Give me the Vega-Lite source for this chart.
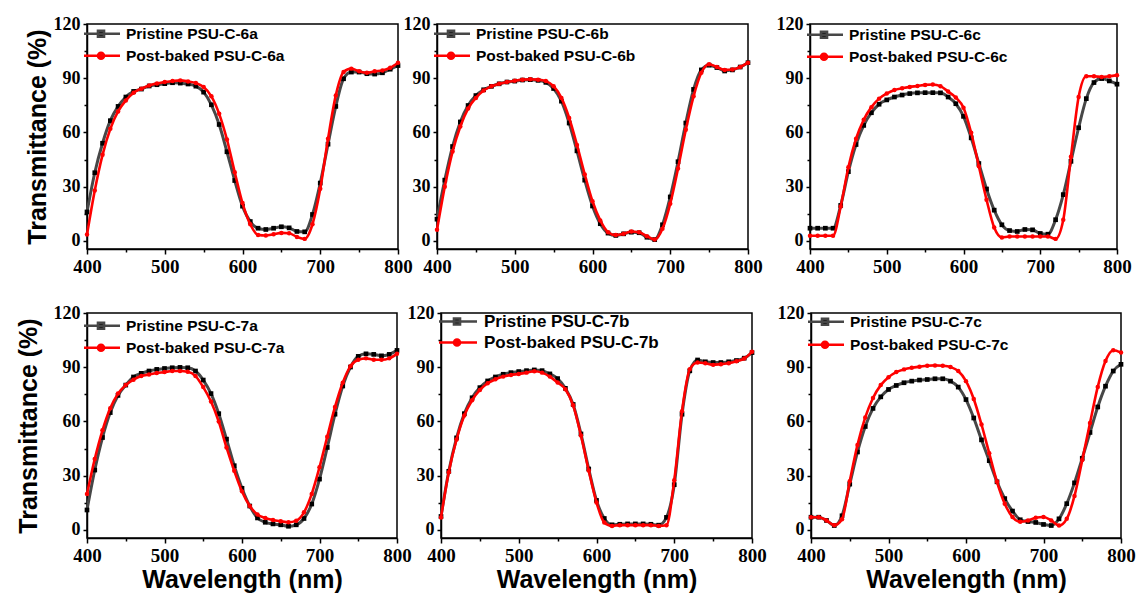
{
"$schema": "https://vega.github.io/schema/vega-lite/v6.json",
"background": "white",
"padding": {"left": 15, "top": 14, "right": 0, "bottom": 0},
"datasets": {"d": [
{"p":"6a","s":"Pristine","x":400,"y":16},{"p":"6a","s":"Pristine","x":410,"y":37.7},{"p":"6a","s":"Pristine","x":420,"y":54},{"p":"6a","s":"Pristine","x":430,"y":66.5},{"p":"6a","s":"Pristine","x":440,"y":74.4},{"p":"6a","s":"Pristine","x":450,"y":79.6},{"p":"6a","s":"Pristine","x":460,"y":82.7},{"p":"6a","s":"Pristine","x":470,"y":84},{"p":"6a","s":"Pristine","x":480,"y":85.7},{"p":"6a","s":"Pristine","x":490,"y":86.4},{"p":"6a","s":"Pristine","x":500,"y":87},{"p":"6a","s":"Pristine","x":510,"y":87.5},{"p":"6a","s":"Pristine","x":520,"y":87.3},{"p":"6a","s":"Pristine","x":530,"y":86.8},{"p":"6a","s":"Pristine","x":540,"y":85.6},{"p":"6a","s":"Pristine","x":550,"y":82.3},{"p":"6a","s":"Pristine","x":560,"y":75.3},{"p":"6a","s":"Pristine","x":570,"y":64.4},{"p":"6a","s":"Pristine","x":580,"y":49.3},{"p":"6a","s":"Pristine","x":590,"y":33.4},{"p":"6a","s":"Pristine","x":600,"y":19.2},{"p":"6a","s":"Pristine","x":610,"y":10.7},{"p":"6a","s":"Pristine","x":620,"y":7},{"p":"6a","s":"Pristine","x":630,"y":6.3},{"p":"6a","s":"Pristine","x":640,"y":7},{"p":"6a","s":"Pristine","x":650,"y":7.8},{"p":"6a","s":"Pristine","x":660,"y":7.2},{"p":"6a","s":"Pristine","x":670,"y":5.2},{"p":"6a","s":"Pristine","x":680,"y":5},{"p":"6a","s":"Pristine","x":690,"y":14.6},{"p":"6a","s":"Pristine","x":700,"y":32},{"p":"6a","s":"Pristine","x":710,"y":53.5},{"p":"6a","s":"Pristine","x":720,"y":74.4},{"p":"6a","s":"Pristine","x":730,"y":89.7},{"p":"6a","s":"Pristine","x":740,"y":93.4},{"p":"6a","s":"Pristine","x":750,"y":93.4},{"p":"6a","s":"Pristine","x":760,"y":92.5},{"p":"6a","s":"Pristine","x":770,"y":92.3},{"p":"6a","s":"Pristine","x":780,"y":93},{"p":"6a","s":"Pristine","x":790,"y":95},{"p":"6a","s":"Pristine","x":800,"y":97},
{"p":"6a","s":"Post-baked","x":400,"y":3.5},{"p":"6a","s":"Post-baked","x":410,"y":27.9},{"p":"6a","s":"Post-baked","x":420,"y":47.6},{"p":"6a","s":"Post-baked","x":430,"y":62},{"p":"6a","s":"Post-baked","x":440,"y":71.6},{"p":"6a","s":"Post-baked","x":450,"y":77.7},{"p":"6a","s":"Post-baked","x":460,"y":82},{"p":"6a","s":"Post-baked","x":470,"y":84.2},{"p":"6a","s":"Post-baked","x":480,"y":86},{"p":"6a","s":"Post-baked","x":490,"y":87.1},{"p":"6a","s":"Post-baked","x":500,"y":87.9},{"p":"6a","s":"Post-baked","x":510,"y":88.4},{"p":"6a","s":"Post-baked","x":520,"y":88.8},{"p":"6a","s":"Post-baked","x":530,"y":88.2},{"p":"6a","s":"Post-baked","x":540,"y":87.3},{"p":"6a","s":"Post-baked","x":550,"y":85.1},{"p":"6a","s":"Post-baked","x":560,"y":80},{"p":"6a","s":"Post-baked","x":570,"y":70.3},{"p":"6a","s":"Post-baked","x":580,"y":56.1},{"p":"6a","s":"Post-baked","x":590,"y":38},{"p":"6a","s":"Post-baked","x":600,"y":20.9},{"p":"6a","s":"Post-baked","x":610,"y":9.2},{"p":"6a","s":"Post-baked","x":620,"y":3.3},{"p":"6a","s":"Post-baked","x":630,"y":3},{"p":"6a","s":"Post-baked","x":640,"y":3.7},{"p":"6a","s":"Post-baked","x":650,"y":4.4},{"p":"6a","s":"Post-baked","x":660,"y":4.2},{"p":"6a","s":"Post-baked","x":670,"y":2.2},{"p":"6a","s":"Post-baked","x":680,"y":1.1},{"p":"6a","s":"Post-baked","x":690,"y":9.2},{"p":"6a","s":"Post-baked","x":700,"y":28.8},{"p":"6a","s":"Post-baked","x":710,"y":56.5},{"p":"6a","s":"Post-baked","x":720,"y":80.5},{"p":"6a","s":"Post-baked","x":730,"y":93.4},{"p":"6a","s":"Post-baked","x":740,"y":95.3},{"p":"6a","s":"Post-baked","x":750,"y":93.8},{"p":"6a","s":"Post-baked","x":760,"y":93},{"p":"6a","s":"Post-baked","x":770,"y":93.8},{"p":"6a","s":"Post-baked","x":780,"y":94.3},{"p":"6a","s":"Post-baked","x":790,"y":95.8},{"p":"6a","s":"Post-baked","x":800,"y":98.6},
{"p":"6b","s":"Pristine","x":400,"y":12},{"p":"6b","s":"Pristine","x":410,"y":33.6},{"p":"6b","s":"Pristine","x":420,"y":52.2},{"p":"6b","s":"Pristine","x":430,"y":65.8},{"p":"6b","s":"Pristine","x":440,"y":74.9},{"p":"6b","s":"Pristine","x":450,"y":80.4},{"p":"6b","s":"Pristine","x":460,"y":83.6},{"p":"6b","s":"Pristine","x":470,"y":85.5},{"p":"6b","s":"Pristine","x":480,"y":86.9},{"p":"6b","s":"Pristine","x":490,"y":87.9},{"p":"6b","s":"Pristine","x":500,"y":88.4},{"p":"6b","s":"Pristine","x":510,"y":89},{"p":"6b","s":"Pristine","x":520,"y":89.2},{"p":"6b","s":"Pristine","x":530,"y":88.8},{"p":"6b","s":"Pristine","x":540,"y":87.7},{"p":"6b","s":"Pristine","x":550,"y":84.3},{"p":"6b","s":"Pristine","x":560,"y":77.3},{"p":"6b","s":"Pristine","x":570,"y":65.2},{"p":"6b","s":"Pristine","x":580,"y":49.8},{"p":"6b","s":"Pristine","x":590,"y":33.6},{"p":"6b","s":"Pristine","x":600,"y":19.3},{"p":"6b","s":"Pristine","x":610,"y":9.5},{"p":"6b","s":"Pristine","x":620,"y":4.3},{"p":"6b","s":"Pristine","x":630,"y":3},{"p":"6b","s":"Pristine","x":640,"y":3.9},{"p":"6b","s":"Pristine","x":650,"y":4.8},{"p":"6b","s":"Pristine","x":660,"y":4.5},{"p":"6b","s":"Pristine","x":670,"y":2},{"p":"6b","s":"Pristine","x":680,"y":0.7},{"p":"6b","s":"Pristine","x":690,"y":8.9},{"p":"6b","s":"Pristine","x":700,"y":24.3},{"p":"6b","s":"Pristine","x":710,"y":43.8},{"p":"6b","s":"Pristine","x":720,"y":65.2},{"p":"6b","s":"Pristine","x":730,"y":83.8},{"p":"6b","s":"Pristine","x":740,"y":94.6},{"p":"6b","s":"Pristine","x":750,"y":97.2},{"p":"6b","s":"Pristine","x":760,"y":95.9},{"p":"6b","s":"Pristine","x":770,"y":94},{"p":"6b","s":"Pristine","x":780,"y":94.6},{"p":"6b","s":"Pristine","x":790,"y":96.2},{"p":"6b","s":"Pristine","x":800,"y":98.6},
{"p":"6b","s":"Post-baked","x":400,"y":6.1},{"p":"6b","s":"Post-baked","x":410,"y":29.9},{"p":"6b","s":"Post-baked","x":420,"y":49.4},{"p":"6b","s":"Post-baked","x":430,"y":63.3},{"p":"6b","s":"Post-baked","x":440,"y":73.2},{"p":"6b","s":"Post-baked","x":450,"y":79.1},{"p":"6b","s":"Post-baked","x":460,"y":83.2},{"p":"6b","s":"Post-baked","x":470,"y":85.5},{"p":"6b","s":"Post-baked","x":480,"y":86.9},{"p":"6b","s":"Post-baked","x":490,"y":87.9},{"p":"6b","s":"Post-baked","x":500,"y":88.6},{"p":"6b","s":"Post-baked","x":510,"y":89.2},{"p":"6b","s":"Post-baked","x":520,"y":89.4},{"p":"6b","s":"Post-baked","x":530,"y":89.2},{"p":"6b","s":"Post-baked","x":540,"y":88.4},{"p":"6b","s":"Post-baked","x":550,"y":85.6},{"p":"6b","s":"Post-baked","x":560,"y":79.1},{"p":"6b","s":"Post-baked","x":570,"y":68},{"p":"6b","s":"Post-baked","x":580,"y":53.1},{"p":"6b","s":"Post-baked","x":590,"y":36.8},{"p":"6b","s":"Post-baked","x":600,"y":21.9},{"p":"6b","s":"Post-baked","x":610,"y":11.3},{"p":"6b","s":"Post-baked","x":620,"y":4.8},{"p":"6b","s":"Post-baked","x":630,"y":3.2},{"p":"6b","s":"Post-baked","x":640,"y":3.9},{"p":"6b","s":"Post-baked","x":650,"y":5.2},{"p":"6b","s":"Post-baked","x":660,"y":4.8},{"p":"6b","s":"Post-baked","x":670,"y":2.6},{"p":"6b","s":"Post-baked","x":680,"y":0.7},{"p":"6b","s":"Post-baked","x":690,"y":6.7},{"p":"6b","s":"Post-baked","x":700,"y":20.6},{"p":"6b","s":"Post-baked","x":710,"y":40.1},{"p":"6b","s":"Post-baked","x":720,"y":61.5},{"p":"6b","s":"Post-baked","x":730,"y":80},{"p":"6b","s":"Post-baked","x":740,"y":93},{"p":"6b","s":"Post-baked","x":750,"y":97.7},{"p":"6b","s":"Post-baked","x":760,"y":96.2},{"p":"6b","s":"Post-baked","x":770,"y":94.6},{"p":"6b","s":"Post-baked","x":780,"y":94.8},{"p":"6b","s":"Post-baked","x":790,"y":96.2},{"p":"6b","s":"Post-baked","x":800,"y":98.6},
{"p":"6c","s":"Pristine","x":400,"y":7},{"p":"6c","s":"Pristine","x":410,"y":7},{"p":"6c","s":"Pristine","x":420,"y":7},{"p":"6c","s":"Pristine","x":430,"y":7},{"p":"6c","s":"Pristine","x":440,"y":19.6},{"p":"6c","s":"Pristine","x":450,"y":38.3},{"p":"6c","s":"Pristine","x":460,"y":53.3},{"p":"6c","s":"Pristine","x":470,"y":63.9},{"p":"6c","s":"Pristine","x":480,"y":70.9},{"p":"6c","s":"Pristine","x":490,"y":75.6},{"p":"6c","s":"Pristine","x":500,"y":78},{"p":"6c","s":"Pristine","x":510,"y":79.6},{"p":"6c","s":"Pristine","x":520,"y":80.7},{"p":"6c","s":"Pristine","x":530,"y":81.5},{"p":"6c","s":"Pristine","x":540,"y":81.9},{"p":"6c","s":"Pristine","x":550,"y":82},{"p":"6c","s":"Pristine","x":560,"y":82},{"p":"6c","s":"Pristine","x":570,"y":81.9},{"p":"6c","s":"Pristine","x":580,"y":79.6},{"p":"6c","s":"Pristine","x":590,"y":75.9},{"p":"6c","s":"Pristine","x":600,"y":68.9},{"p":"6c","s":"Pristine","x":610,"y":57},{"p":"6c","s":"Pristine","x":620,"y":42.8},{"p":"6c","s":"Pristine","x":630,"y":28.7},{"p":"6c","s":"Pristine","x":640,"y":17},{"p":"6c","s":"Pristine","x":650,"y":8.9},{"p":"6c","s":"Pristine","x":660,"y":5.7},{"p":"6c","s":"Pristine","x":670,"y":5.2},{"p":"6c","s":"Pristine","x":680,"y":6.3},{"p":"6c","s":"Pristine","x":690,"y":6.1},{"p":"6c","s":"Pristine","x":700,"y":4.1},{"p":"6c","s":"Pristine","x":710,"y":3.7},{"p":"6c","s":"Pristine","x":720,"y":11.7},{"p":"6c","s":"Pristine","x":730,"y":25.6},{"p":"6c","s":"Pristine","x":740,"y":44},{"p":"6c","s":"Pristine","x":750,"y":62.6},{"p":"6c","s":"Pristine","x":760,"y":78.7},{"p":"6c","s":"Pristine","x":770,"y":87.6},{"p":"6c","s":"Pristine","x":780,"y":89.8},{"p":"6c","s":"Pristine","x":790,"y":88.5},{"p":"6c","s":"Pristine","x":800,"y":86.7},
{"p":"6c","s":"Post-baked","x":400,"y":2.8},{"p":"6c","s":"Post-baked","x":410,"y":2.8},{"p":"6c","s":"Post-baked","x":420,"y":2.8},{"p":"6c","s":"Post-baked","x":430,"y":2.8},{"p":"6c","s":"Post-baked","x":440,"y":19},{"p":"6c","s":"Post-baked","x":450,"y":40.7},{"p":"6c","s":"Post-baked","x":460,"y":56.5},{"p":"6c","s":"Post-baked","x":470,"y":67},{"p":"6c","s":"Post-baked","x":480,"y":74},{"p":"6c","s":"Post-baked","x":490,"y":78.7},{"p":"6c","s":"Post-baked","x":500,"y":81.5},{"p":"6c","s":"Post-baked","x":510,"y":83.5},{"p":"6c","s":"Post-baked","x":520,"y":84.4},{"p":"6c","s":"Post-baked","x":530,"y":85.2},{"p":"6c","s":"Post-baked","x":540,"y":85.7},{"p":"6c","s":"Post-baked","x":550,"y":86.3},{"p":"6c","s":"Post-baked","x":560,"y":86.5},{"p":"6c","s":"Post-baked","x":570,"y":85.6},{"p":"6c","s":"Post-baked","x":580,"y":82.6},{"p":"6c","s":"Post-baked","x":590,"y":79.3},{"p":"6c","s":"Post-baked","x":600,"y":73.7},{"p":"6c","s":"Post-baked","x":610,"y":59.8},{"p":"6c","s":"Post-baked","x":620,"y":41.3},{"p":"6c","s":"Post-baked","x":630,"y":22.8},{"p":"6c","s":"Post-baked","x":640,"y":7.4},{"p":"6c","s":"Post-baked","x":650,"y":1.9},{"p":"6c","s":"Post-baked","x":660,"y":2.4},{"p":"6c","s":"Post-baked","x":670,"y":2.4},{"p":"6c","s":"Post-baked","x":680,"y":2.4},{"p":"6c","s":"Post-baked","x":690,"y":2.4},{"p":"6c","s":"Post-baked","x":700,"y":2.4},{"p":"6c","s":"Post-baked","x":710,"y":2.4},{"p":"6c","s":"Post-baked","x":720,"y":1.1},{"p":"6c","s":"Post-baked","x":730,"y":11.7},{"p":"6c","s":"Post-baked","x":740,"y":46.5},{"p":"6c","s":"Post-baked","x":750,"y":79.6},{"p":"6c","s":"Post-baked","x":760,"y":91.1},{"p":"6c","s":"Post-baked","x":770,"y":91.1},{"p":"6c","s":"Post-baked","x":780,"y":90.7},{"p":"6c","s":"Post-baked","x":790,"y":91.1},{"p":"6c","s":"Post-baked","x":800,"y":91.7},
{"p":"7a","s":"Pristine","x":400,"y":11},{"p":"7a","s":"Pristine","x":410,"y":33.1},{"p":"7a","s":"Pristine","x":420,"y":51.1},{"p":"7a","s":"Pristine","x":430,"y":64.9},{"p":"7a","s":"Pristine","x":440,"y":74.4},{"p":"7a","s":"Pristine","x":450,"y":80.1},{"p":"7a","s":"Pristine","x":460,"y":84.6},{"p":"7a","s":"Pristine","x":470,"y":86.6},{"p":"7a","s":"Pristine","x":480,"y":87.9},{"p":"7a","s":"Pristine","x":490,"y":88.8},{"p":"7a","s":"Pristine","x":500,"y":89.3},{"p":"7a","s":"Pristine","x":510,"y":89.7},{"p":"7a","s":"Pristine","x":520,"y":89.9},{"p":"7a","s":"Pristine","x":530,"y":89.7},{"p":"7a","s":"Pristine","x":540,"y":87.9},{"p":"7a","s":"Pristine","x":550,"y":82.9},{"p":"7a","s":"Pristine","x":560,"y":75.4},{"p":"7a","s":"Pristine","x":570,"y":64.3},{"p":"7a","s":"Pristine","x":580,"y":50.2},{"p":"7a","s":"Pristine","x":590,"y":35.5},{"p":"7a","s":"Pristine","x":600,"y":23},{"p":"7a","s":"Pristine","x":610,"y":13.2},{"p":"7a","s":"Pristine","x":620,"y":6.6},{"p":"7a","s":"Pristine","x":630,"y":4.2},{"p":"7a","s":"Pristine","x":640,"y":3.3},{"p":"7a","s":"Pristine","x":650,"y":2.8},{"p":"7a","s":"Pristine","x":660,"y":2},{"p":"7a","s":"Pristine","x":670,"y":2.8},{"p":"7a","s":"Pristine","x":680,"y":6.3},{"p":"7a","s":"Pristine","x":690,"y":14.3},{"p":"7a","s":"Pristine","x":700,"y":28.1},{"p":"7a","s":"Pristine","x":710,"y":45.6},{"p":"7a","s":"Pristine","x":720,"y":64},{"p":"7a","s":"Pristine","x":730,"y":79.6},{"p":"7a","s":"Pristine","x":740,"y":90.1},{"p":"7a","s":"Pristine","x":750,"y":96},{"p":"7a","s":"Pristine","x":760,"y":97.4},{"p":"7a","s":"Pristine","x":770,"y":97.1},{"p":"7a","s":"Pristine","x":780,"y":96.3},{"p":"7a","s":"Pristine","x":790,"y":97.1},{"p":"7a","s":"Pristine","x":800,"y":99.3},
{"p":"7a","s":"Post-baked","x":400,"y":19.9},{"p":"7a","s":"Post-baked","x":410,"y":39.2},{"p":"7a","s":"Post-baked","x":420,"y":55.1},{"p":"7a","s":"Post-baked","x":430,"y":67.3},{"p":"7a","s":"Post-baked","x":440,"y":75.4},{"p":"7a","s":"Post-baked","x":450,"y":80.1},{"p":"7a","s":"Post-baked","x":460,"y":83.1},{"p":"7a","s":"Post-baked","x":470,"y":85.1},{"p":"7a","s":"Post-baked","x":480,"y":86},{"p":"7a","s":"Post-baked","x":490,"y":86.8},{"p":"7a","s":"Post-baked","x":500,"y":87.3},{"p":"7a","s":"Post-baked","x":510,"y":87.9},{"p":"7a","s":"Post-baked","x":520,"y":87.9},{"p":"7a","s":"Post-baked","x":530,"y":87.5},{"p":"7a","s":"Post-baked","x":540,"y":85.1},{"p":"7a","s":"Post-baked","x":550,"y":79},{"p":"7a","s":"Post-baked","x":560,"y":71},{"p":"7a","s":"Post-baked","x":570,"y":59.9},{"p":"7a","s":"Post-baked","x":580,"y":45.6},{"p":"7a","s":"Post-baked","x":590,"y":32.7},{"p":"7a","s":"Post-baked","x":600,"y":21.3},{"p":"7a","s":"Post-baked","x":610,"y":13.2},{"p":"7a","s":"Post-baked","x":620,"y":8.5},{"p":"7a","s":"Post-baked","x":630,"y":6.6},{"p":"7a","s":"Post-baked","x":640,"y":5.5},{"p":"7a","s":"Post-baked","x":650,"y":4.8},{"p":"7a","s":"Post-baked","x":660,"y":4.2},{"p":"7a","s":"Post-baked","x":670,"y":5.1},{"p":"7a","s":"Post-baked","x":680,"y":9.7},{"p":"7a","s":"Post-baked","x":690,"y":19.9},{"p":"7a","s":"Post-baked","x":700,"y":34.6},{"p":"7a","s":"Post-baked","x":710,"y":51.5},{"p":"7a","s":"Post-baked","x":720,"y":68},{"p":"7a","s":"Post-baked","x":730,"y":81.4},{"p":"7a","s":"Post-baked","x":740,"y":90.6},{"p":"7a","s":"Post-baked","x":750,"y":94.1},{"p":"7a","s":"Post-baked","x":760,"y":94.9},{"p":"7a","s":"Post-baked","x":770,"y":94.1},{"p":"7a","s":"Post-baked","x":780,"y":94.1},{"p":"7a","s":"Post-baked","x":790,"y":94.9},{"p":"7a","s":"Post-baked","x":800,"y":97.4},
{"p":"7b","s":"Pristine","x":400,"y":7.4},{"p":"7b","s":"Pristine","x":410,"y":32.4},{"p":"7b","s":"Pristine","x":420,"y":50.9},{"p":"7b","s":"Pristine","x":430,"y":64.3},{"p":"7b","s":"Pristine","x":440,"y":73.1},{"p":"7b","s":"Pristine","x":450,"y":78.7},{"p":"7b","s":"Pristine","x":460,"y":82.4},{"p":"7b","s":"Pristine","x":470,"y":84.6},{"p":"7b","s":"Pristine","x":480,"y":86.1},{"p":"7b","s":"Pristine","x":490,"y":87},{"p":"7b","s":"Pristine","x":500,"y":87.6},{"p":"7b","s":"Pristine","x":510,"y":88.1},{"p":"7b","s":"Pristine","x":520,"y":88.5},{"p":"7b","s":"Pristine","x":530,"y":88.1},{"p":"7b","s":"Pristine","x":540,"y":86.3},{"p":"7b","s":"Pristine","x":550,"y":83.7},{"p":"7b","s":"Pristine","x":560,"y":78.3},{"p":"7b","s":"Pristine","x":570,"y":69.4},{"p":"7b","s":"Pristine","x":580,"y":53.1},{"p":"7b","s":"Pristine","x":590,"y":33.7},{"p":"7b","s":"Pristine","x":600,"y":16.3},{"p":"7b","s":"Pristine","x":610,"y":6.3},{"p":"7b","s":"Pristine","x":620,"y":2.8},{"p":"7b","s":"Pristine","x":630,"y":3.1},{"p":"7b","s":"Pristine","x":640,"y":3.3},{"p":"7b","s":"Pristine","x":650,"y":3.3},{"p":"7b","s":"Pristine","x":660,"y":3.3},{"p":"7b","s":"Pristine","x":670,"y":3.1},{"p":"7b","s":"Pristine","x":680,"y":2.6},{"p":"7b","s":"Pristine","x":690,"y":6.9},{"p":"7b","s":"Pristine","x":700,"y":25},{"p":"7b","s":"Pristine","x":710,"y":64},{"p":"7b","s":"Pristine","x":720,"y":88},{"p":"7b","s":"Pristine","x":730,"y":94},{"p":"7b","s":"Pristine","x":740,"y":93},{"p":"7b","s":"Pristine","x":750,"y":92.6},{"p":"7b","s":"Pristine","x":760,"y":92.6},{"p":"7b","s":"Pristine","x":770,"y":93},{"p":"7b","s":"Pristine","x":780,"y":93.7},{"p":"7b","s":"Pristine","x":790,"y":95},{"p":"7b","s":"Pristine","x":800,"y":98.1},
{"p":"7b","s":"Post-baked","x":400,"y":6.9},{"p":"7b","s":"Post-baked","x":410,"y":31.9},{"p":"7b","s":"Post-baked","x":420,"y":50},{"p":"7b","s":"Post-baked","x":430,"y":63.3},{"p":"7b","s":"Post-baked","x":440,"y":71.7},{"p":"7b","s":"Post-baked","x":450,"y":77.4},{"p":"7b","s":"Post-baked","x":460,"y":81.1},{"p":"7b","s":"Post-baked","x":470,"y":83.3},{"p":"7b","s":"Post-baked","x":480,"y":84.8},{"p":"7b","s":"Post-baked","x":490,"y":85.7},{"p":"7b","s":"Post-baked","x":500,"y":86.3},{"p":"7b","s":"Post-baked","x":510,"y":87},{"p":"7b","s":"Post-baked","x":520,"y":87.8},{"p":"7b","s":"Post-baked","x":530,"y":87},{"p":"7b","s":"Post-baked","x":540,"y":84.8},{"p":"7b","s":"Post-baked","x":550,"y":81.5},{"p":"7b","s":"Post-baked","x":560,"y":77.8},{"p":"7b","s":"Post-baked","x":570,"y":68.9},{"p":"7b","s":"Post-baked","x":580,"y":52.2},{"p":"7b","s":"Post-baked","x":590,"y":32.8},{"p":"7b","s":"Post-baked","x":600,"y":15.2},{"p":"7b","s":"Post-baked","x":610,"y":4.1},{"p":"7b","s":"Post-baked","x":620,"y":2.2},{"p":"7b","s":"Post-baked","x":630,"y":2.6},{"p":"7b","s":"Post-baked","x":640,"y":2.6},{"p":"7b","s":"Post-baked","x":650,"y":2.6},{"p":"7b","s":"Post-baked","x":660,"y":2.6},{"p":"7b","s":"Post-baked","x":670,"y":2.6},{"p":"7b","s":"Post-baked","x":680,"y":2.2},{"p":"7b","s":"Post-baked","x":690,"y":2.6},{"p":"7b","s":"Post-baked","x":700,"y":27.4},{"p":"7b","s":"Post-baked","x":710,"y":65.7},{"p":"7b","s":"Post-baked","x":720,"y":88.9},{"p":"7b","s":"Post-baked","x":730,"y":92.6},{"p":"7b","s":"Post-baked","x":740,"y":92.2},{"p":"7b","s":"Post-baked","x":750,"y":91.3},{"p":"7b","s":"Post-baked","x":760,"y":91.7},{"p":"7b","s":"Post-baked","x":770,"y":92.2},{"p":"7b","s":"Post-baked","x":780,"y":93.3},{"p":"7b","s":"Post-baked","x":790,"y":94.8},{"p":"7b","s":"Post-baked","x":800,"y":98.5},
{"p":"7c","s":"Pristine","x":400,"y":7},{"p":"7c","s":"Pristine","x":410,"y":7},{"p":"7c","s":"Pristine","x":420,"y":5.2},{"p":"7c","s":"Pristine","x":430,"y":2.4},{"p":"7c","s":"Pristine","x":440,"y":7.8},{"p":"7c","s":"Pristine","x":450,"y":25.3},{"p":"7c","s":"Pristine","x":460,"y":43.1},{"p":"7c","s":"Pristine","x":470,"y":57.2},{"p":"7c","s":"Pristine","x":480,"y":67.2},{"p":"7c","s":"Pristine","x":490,"y":73.6},{"p":"7c","s":"Pristine","x":500,"y":77.7},{"p":"7c","s":"Pristine","x":510,"y":79.9},{"p":"7c","s":"Pristine","x":520,"y":81.4},{"p":"7c","s":"Pristine","x":530,"y":82.3},{"p":"7c","s":"Pristine","x":540,"y":82.9},{"p":"7c","s":"Pristine","x":550,"y":83.2},{"p":"7c","s":"Pristine","x":560,"y":83.6},{"p":"7c","s":"Pristine","x":570,"y":83.6},{"p":"7c","s":"Pristine","x":580,"y":82.3},{"p":"7c","s":"Pristine","x":590,"y":79},{"p":"7c","s":"Pristine","x":600,"y":72.1},{"p":"7c","s":"Pristine","x":610,"y":61.9},{"p":"7c","s":"Pristine","x":620,"y":49.8},{"p":"7c","s":"Pristine","x":630,"y":38.3},{"p":"7c","s":"Pristine","x":640,"y":26.6},{"p":"7c","s":"Pristine","x":650,"y":17.3},{"p":"7c","s":"Pristine","x":660,"y":10.4},{"p":"7c","s":"Pristine","x":670,"y":5.6},{"p":"7c","s":"Pristine","x":680,"y":4.6},{"p":"7c","s":"Pristine","x":690,"y":4.1},{"p":"7c","s":"Pristine","x":700,"y":3},{"p":"7c","s":"Pristine","x":710,"y":2.4},{"p":"7c","s":"Pristine","x":720,"y":6.1},{"p":"7c","s":"Pristine","x":730,"y":14.5},{"p":"7c","s":"Pristine","x":740,"y":26},{"p":"7c","s":"Pristine","x":750,"y":39.6},{"p":"7c","s":"Pristine","x":760,"y":53.9},{"p":"7c","s":"Pristine","x":770,"y":68},{"p":"7c","s":"Pristine","x":780,"y":79.5},{"p":"7c","s":"Pristine","x":790,"y":87.9},{"p":"7c","s":"Pristine","x":800,"y":91.6},
{"p":"7c","s":"Post-baked","x":400,"y":7},{"p":"7c","s":"Post-baked","x":410,"y":7},{"p":"7c","s":"Post-baked","x":420,"y":5.2},{"p":"7c","s":"Post-baked","x":430,"y":2.6},{"p":"7c","s":"Post-baked","x":440,"y":5.9},{"p":"7c","s":"Post-baked","x":450,"y":26.9},{"p":"7c","s":"Post-baked","x":460,"y":47},{"p":"7c","s":"Post-baked","x":470,"y":62.2},{"p":"7c","s":"Post-baked","x":480,"y":73},{"p":"7c","s":"Post-baked","x":490,"y":80.1},{"p":"7c","s":"Post-baked","x":500,"y":84.5},{"p":"7c","s":"Post-baked","x":510,"y":87.3},{"p":"7c","s":"Post-baked","x":520,"y":88.8},{"p":"7c","s":"Post-baked","x":530,"y":89.7},{"p":"7c","s":"Post-baked","x":540,"y":90.3},{"p":"7c","s":"Post-baked","x":550,"y":90.8},{"p":"7c","s":"Post-baked","x":560,"y":91},{"p":"7c","s":"Post-baked","x":570,"y":90.8},{"p":"7c","s":"Post-baked","x":580,"y":90.1},{"p":"7c","s":"Post-baked","x":590,"y":87.9},{"p":"7c","s":"Post-baked","x":600,"y":82.3},{"p":"7c","s":"Post-baked","x":610,"y":72.4},{"p":"7c","s":"Post-baked","x":620,"y":58.3},{"p":"7c","s":"Post-baked","x":630,"y":42.4},{"p":"7c","s":"Post-baked","x":640,"y":26.6},{"p":"7c","s":"Post-baked","x":650,"y":14.5},{"p":"7c","s":"Post-baked","x":660,"y":7.1},{"p":"7c","s":"Post-baked","x":670,"y":4.5},{"p":"7c","s":"Post-baked","x":680,"y":5.2},{"p":"7c","s":"Post-baked","x":690,"y":6.7},{"p":"7c","s":"Post-baked","x":700,"y":7.1},{"p":"7c","s":"Post-baked","x":710,"y":5.2},{"p":"7c","s":"Post-baked","x":720,"y":2.4},{"p":"7c","s":"Post-baked","x":730,"y":6.1},{"p":"7c","s":"Post-baked","x":740,"y":18.8},{"p":"7c","s":"Post-baked","x":750,"y":38.6},{"p":"7c","s":"Post-baked","x":760,"y":59.1},{"p":"7c","s":"Post-baked","x":770,"y":79.1},{"p":"7c","s":"Post-baked","x":780,"y":93.4},{"p":"7c","s":"Post-baked","x":790,"y":99.4},{"p":"7c","s":"Post-baked","x":800,"y":98.1}
]},
"data": {"name": "d"},
"spacing": 26,
"align": "none",
"resolve": {"scale": {"color": "independent"}, "legend": {"color": "independent"}},
"vconcat": [
{"spacing": -11, "resolve": {"scale": {"color": "independent"}, "legend": {"color": "independent"}},
 "hconcat": [
  {"width": 311, "height": 225, "transform": [{"filter": "datum.p === '6a'"}],
   "encoding": {
    "x": {"field": "x", "type": "quantitative", "scale": {"domain": [400, 800], "nice": false, "zero": false}, "axis": {"title": null, "values": [400,450,500,550,600,650,700,750,800], "labelExpr": "datum.value % 100 === 0 ? datum.label : ''", "tickSize": {"condition": {"test": "datum.value % 100 === 0", "value": 5}, "value": 3}}},
    "y": {"field": "y", "type": "quantitative", "scale": {"domain": [-4.5, 120], "nice": false, "zero": false}, "axis": {"title": "Transmittance (%)", "titlePadding": 3, "values": [0,15,30,45,60,75,90,105,120], "labelExpr": "datum.value % 30 === 0 ? datum.label : ''", "tickSize": {"condition": {"test": "datum.value % 30 === 0", "value": 4}, "value": 3}}}
   },
   "layer": [
    {"transform": [{"filter": "datum.s === 'Pristine'"}], "mark": {"type": "line", "interpolate": "monotone", "strokeWidth": 3}, "encoding": {"color": {"field": "s", "type": "nominal", "scale": {"domain": ["Pristine", "Post-baked"], "range": ["#474747", "#ff0000"]}, "legend": {"title": null, "orient": "none", "legendX": -3, "legendY": 2, "direction": "vertical", "padding": 0, "labelExpr": "datum.label + ' PSU-C-6a'", "symbolType": "stroke", "symbolSize": 100, "symbolStrokeWidth": 2.6, "labelOffset": 26.5, "rowPadding": 4, "labelLimit": 400, "labelFont": "Liberation Sans", "labelFontSize": 15.5, "labelFontWeight": "bold", "labelColor": "#000000", "encode": {"symbols": {"update": {"shape": {"signal": "datum.value === 'Pristine' ? 'M-1.55,0H5.65M1.25,-0.6H2.45V0.6H1.25Z' : 'M-1.55,0H5.65M1.25,0A0.6,0.6 0 1,0 2.45,0A0.6,0.6 0 1,0 1.25,0Z'"}, "fill": {"signal": "datum.value === 'Pristine' ? '#000000' : '#ff0000'"}, "fillOpacity": {"value": 1}, "opacity": {"value": 1}}}}}}}},
    {"transform": [{"filter": "datum.s === 'Pristine'"}], "mark": {"type": "point", "shape": "square", "filled": true, "color": "#000000", "size": 22, "opacity": 1}},
    {"transform": [{"filter": "datum.s === 'Post-baked'"}], "mark": {"type": "line", "interpolate": "monotone", "strokeWidth": 2.6}, "encoding": {"color": {"field": "s", "type": "nominal", "scale": {"domain": ["Pristine", "Post-baked"], "range": ["#474747", "#ff0000"]}}}},
    {"transform": [{"filter": "datum.s === 'Post-baked'"}], "mark": {"type": "point", "shape": "circle", "filled": true, "color": "#ff0000", "size": 20, "opacity": 1}}
   ]
  },
  {"width": 311, "height": 225, "transform": [{"filter": "datum.p === '6b'"}],
   "encoding": {
    "x": {"field": "x", "type": "quantitative", "scale": {"domain": [400, 800], "nice": false, "zero": false}, "axis": {"title": null, "values": [400,450,500,550,600,650,700,750,800], "labelExpr": "datum.value % 100 === 0 ? datum.label : ''", "tickSize": {"condition": {"test": "datum.value % 100 === 0", "value": 5}, "value": 3}}},
    "y": {"field": "y", "type": "quantitative", "scale": {"domain": [-4.5, 120], "nice": false, "zero": false}, "axis": {"title": null, "values": [0,15,30,45,60,75,90,105,120], "labelExpr": "datum.value % 30 === 0 ? datum.label : ''", "tickSize": {"condition": {"test": "datum.value % 30 === 0", "value": 4}, "value": 3}}}
   },
   "layer": [
    {"transform": [{"filter": "datum.s === 'Pristine'"}], "mark": {"type": "line", "interpolate": "monotone", "strokeWidth": 3}, "encoding": {"color": {"field": "s", "type": "nominal", "scale": {"domain": ["Pristine", "Post-baked"], "range": ["#474747", "#ff0000"]}, "legend": {"title": null, "orient": "none", "legendX": -3, "legendY": 2, "direction": "vertical", "padding": 0, "labelExpr": "datum.label + ' PSU-C-6b'", "symbolType": "stroke", "symbolSize": 100, "symbolStrokeWidth": 2.6, "labelOffset": 26.5, "rowPadding": 4, "labelLimit": 400, "labelFont": "Liberation Sans", "labelFontSize": 15.5, "labelFontWeight": "bold", "labelColor": "#000000", "encode": {"symbols": {"update": {"shape": {"signal": "datum.value === 'Pristine' ? 'M-1.55,0H5.65M1.25,-0.6H2.45V0.6H1.25Z' : 'M-1.55,0H5.65M1.25,0A0.6,0.6 0 1,0 2.45,0A0.6,0.6 0 1,0 1.25,0Z'"}, "fill": {"signal": "datum.value === 'Pristine' ? '#000000' : '#ff0000'"}, "fillOpacity": {"value": 1}, "opacity": {"value": 1}}}}}}}},
    {"transform": [{"filter": "datum.s === 'Pristine'"}], "mark": {"type": "point", "shape": "square", "filled": true, "color": "#000000", "size": 22, "opacity": 1}},
    {"transform": [{"filter": "datum.s === 'Post-baked'"}], "mark": {"type": "line", "interpolate": "monotone", "strokeWidth": 2.6}, "encoding": {"color": {"field": "s", "type": "nominal", "scale": {"domain": ["Pristine", "Post-baked"], "range": ["#474747", "#ff0000"]}}}},
    {"transform": [{"filter": "datum.s === 'Post-baked'"}], "mark": {"type": "point", "shape": "circle", "filled": true, "color": "#ff0000", "size": 20, "opacity": 1}}
   ]
  },
  {"width": 307, "height": 225, "transform": [{"filter": "datum.p === '6c'"}],
   "encoding": {
    "x": {"field": "x", "type": "quantitative", "scale": {"domain": [400, 800], "nice": false, "zero": false}, "axis": {"title": null, "values": [400,450,500,550,600,650,700,750,800], "labelExpr": "datum.value % 100 === 0 ? datum.label : ''", "tickSize": {"condition": {"test": "datum.value % 100 === 0", "value": 5}, "value": 3}}},
    "y": {"field": "y", "type": "quantitative", "scale": {"domain": [-4.5, 120], "nice": false, "zero": false}, "axis": {"title": null, "minExtent": 57, "maxExtent": 57, "values": [0,15,30,45,60,75,90,105,120], "labelExpr": "datum.value % 30 === 0 ? datum.label : ''", "tickSize": {"condition": {"test": "datum.value % 30 === 0", "value": 4}, "value": 3}}}
   },
   "layer": [
    {"transform": [{"filter": "datum.s === 'Pristine'"}], "mark": {"type": "line", "interpolate": "monotone", "strokeWidth": 3}, "encoding": {"color": {"field": "s", "type": "nominal", "scale": {"domain": ["Pristine", "Post-baked"], "range": ["#474747", "#ff0000"]}, "legend": {"title": null, "orient": "none", "legendX": -3, "legendY": 3, "direction": "vertical", "padding": 0, "labelExpr": "datum.label + ' PSU-C-6c'", "symbolType": "stroke", "symbolSize": 100, "symbolStrokeWidth": 2.6, "labelOffset": 26.5, "rowPadding": 4, "labelLimit": 400, "labelFont": "Liberation Sans", "labelFontSize": 15.5, "labelFontWeight": "bold", "labelColor": "#000000", "encode": {"symbols": {"update": {"shape": {"signal": "datum.value === 'Pristine' ? 'M-1.55,0H5.65M1.25,-0.6H2.45V0.6H1.25Z' : 'M-1.55,0H5.65M1.25,0A0.6,0.6 0 1,0 2.45,0A0.6,0.6 0 1,0 1.25,0Z'"}, "fill": {"signal": "datum.value === 'Pristine' ? '#000000' : '#ff0000'"}, "fillOpacity": {"value": 1}, "opacity": {"value": 1}}}}}}}},
    {"transform": [{"filter": "datum.s === 'Pristine'"}], "mark": {"type": "point", "shape": "square", "filled": true, "color": "#000000", "size": 22, "opacity": 1}},
    {"transform": [{"filter": "datum.s === 'Post-baked'"}], "mark": {"type": "line", "interpolate": "monotone", "strokeWidth": 2.6}, "encoding": {"color": {"field": "s", "type": "nominal", "scale": {"domain": ["Pristine", "Post-baked"], "range": ["#474747", "#ff0000"]}}}},
    {"transform": [{"filter": "datum.s === 'Post-baked'"}], "mark": {"type": "point", "shape": "circle", "filled": true, "color": "#ff0000", "size": 20, "opacity": 1}}
   ]
  }
 ]},
{"spacing": -6, "resolve": {"scale": {"color": "independent"}, "legend": {"color": "independent"}},
 "hconcat": [
  {"width": 310, "height": 225, "transform": [{"filter": "datum.p === '7a'"}],
   "encoding": {
    "x": {"field": "x", "type": "quantitative", "scale": {"domain": [400, 800], "nice": false, "zero": false}, "axis": {"title": "Wavelength (nm)", "titlePadding": 2, "values": [400,450,500,550,600,650,700,750,800], "labelExpr": "datum.value % 100 === 0 ? datum.label : ''", "tickSize": {"condition": {"test": "datum.value % 100 === 0", "value": 5}, "value": 3}}},
    "y": {"field": "y", "type": "quantitative", "scale": {"domain": [-4.5, 120], "nice": false, "zero": false}, "axis": {"title": "Transmittance (%)", "titlePadding": 12, "values": [0,15,30,45,60,75,90,105,120], "labelExpr": "datum.value % 30 === 0 ? datum.label : ''", "tickSize": {"condition": {"test": "datum.value % 30 === 0", "value": 4}, "value": 3}}}
   },
   "layer": [
    {"transform": [{"filter": "datum.s === 'Pristine'"}], "mark": {"type": "line", "interpolate": "monotone", "strokeWidth": 3}, "encoding": {"color": {"field": "s", "type": "nominal", "scale": {"domain": ["Pristine", "Post-baked"], "range": ["#474747", "#ff0000"]}, "legend": {"title": null, "orient": "none", "legendX": -3, "legendY": 5, "direction": "vertical", "padding": 0, "labelExpr": "datum.label + ' PSU-C-7a'", "symbolType": "stroke", "symbolSize": 100, "symbolStrokeWidth": 2.6, "labelOffset": 26.5, "rowPadding": 4, "labelLimit": 400, "labelFont": "Liberation Sans", "labelFontSize": 15.5, "labelFontWeight": "bold", "labelColor": "#000000", "encode": {"symbols": {"update": {"shape": {"signal": "datum.value === 'Pristine' ? 'M-1.55,0H5.65M1.25,-0.6H2.45V0.6H1.25Z' : 'M-1.55,0H5.65M1.25,0A0.6,0.6 0 1,0 2.45,0A0.6,0.6 0 1,0 1.25,0Z'"}, "fill": {"signal": "datum.value === 'Pristine' ? '#000000' : '#ff0000'"}, "fillOpacity": {"value": 1}, "opacity": {"value": 1}}}}}}}},
    {"transform": [{"filter": "datum.s === 'Pristine'"}], "mark": {"type": "point", "shape": "square", "filled": true, "color": "#000000", "size": 22, "opacity": 1}},
    {"transform": [{"filter": "datum.s === 'Post-baked'"}], "mark": {"type": "line", "interpolate": "monotone", "strokeWidth": 2.6}, "encoding": {"color": {"field": "s", "type": "nominal", "scale": {"domain": ["Pristine", "Post-baked"], "range": ["#474747", "#ff0000"]}}}},
    {"transform": [{"filter": "datum.s === 'Post-baked'"}], "mark": {"type": "point", "shape": "circle", "filled": true, "color": "#ff0000", "size": 20, "opacity": 1}}
   ]
  },
  {"width": 311, "height": 225, "transform": [{"filter": "datum.p === '7b'"}],
   "encoding": {
    "x": {"field": "x", "type": "quantitative", "scale": {"domain": [400, 800], "nice": false, "zero": false}, "axis": {"title": "Wavelength (nm)", "titlePadding": 2, "values": [400,450,500,550,600,650,700,750,800], "labelExpr": "datum.value % 100 === 0 ? datum.label : ''", "tickSize": {"condition": {"test": "datum.value % 100 === 0", "value": 5}, "value": 3}}},
    "y": {"field": "y", "type": "quantitative", "scale": {"domain": [-4.5, 120], "nice": false, "zero": false}, "axis": {"title": null, "values": [0,15,30,45,60,75,90,105,120], "labelExpr": "datum.value % 30 === 0 ? datum.label : ''", "tickSize": {"condition": {"test": "datum.value % 30 === 0", "value": 4}, "value": 3}}}
   },
   "layer": [
    {"transform": [{"filter": "datum.s === 'Pristine'"}], "mark": {"type": "line", "interpolate": "monotone", "strokeWidth": 3}, "encoding": {"color": {"field": "s", "type": "nominal", "scale": {"domain": ["Pristine", "Post-baked"], "range": ["#474747", "#ff0000"]}, "legend": {"title": null, "orient": "none", "legendX": -3, "legendY": 0, "direction": "vertical", "padding": 0, "labelExpr": "datum.label + ' PSU-C-7b'", "symbolType": "stroke", "symbolSize": 100, "symbolStrokeWidth": 2.6, "labelOffset": 29, "rowPadding": 3, "labelLimit": 400, "labelFont": "Liberation Sans", "labelFontSize": 17, "labelFontWeight": "bold", "labelColor": "#000000", "encode": {"symbols": {"update": {"shape": {"signal": "datum.value === 'Pristine' ? 'M-1.5,0H6.1M1.5,-0.6H2.7V0.6H1.5Z' : 'M-1.5,0H6.1M1.5,0A0.6,0.6 0 1,0 2.7,0A0.6,0.6 0 1,0 1.5,0Z'"}, "fill": {"signal": "datum.value === 'Pristine' ? '#000000' : '#ff0000'"}, "fillOpacity": {"value": 1}, "opacity": {"value": 1}}}}}}}},
    {"transform": [{"filter": "datum.s === 'Pristine'"}], "mark": {"type": "point", "shape": "square", "filled": true, "color": "#000000", "size": 22, "opacity": 1}},
    {"transform": [{"filter": "datum.s === 'Post-baked'"}], "mark": {"type": "line", "interpolate": "monotone", "strokeWidth": 2.6}, "encoding": {"color": {"field": "s", "type": "nominal", "scale": {"domain": ["Pristine", "Post-baked"], "range": ["#474747", "#ff0000"]}}}},
    {"transform": [{"filter": "datum.s === 'Post-baked'"}], "mark": {"type": "point", "shape": "circle", "filled": true, "color": "#ff0000", "size": 20, "opacity": 1}}
   ]
  },
  {"width": 310, "height": 225, "transform": [{"filter": "datum.p === '7c'"}],
   "encoding": {
    "x": {"field": "x", "type": "quantitative", "scale": {"domain": [400, 800], "nice": false, "zero": false}, "axis": {"title": "Wavelength (nm)", "titlePadding": 2, "values": [400,450,500,550,600,650,700,750,800], "labelExpr": "datum.value % 100 === 0 ? datum.label : ''", "tickSize": {"condition": {"test": "datum.value % 100 === 0", "value": 5}, "value": 3}}},
    "y": {"field": "y", "type": "quantitative", "scale": {"domain": [-4.5, 120], "nice": false, "zero": false}, "axis": {"title": null, "minExtent": 49, "maxExtent": 49, "values": [0,15,30,45,60,75,90,105,120], "labelExpr": "datum.value % 30 === 0 ? datum.label : ''", "tickSize": {"condition": {"test": "datum.value % 30 === 0", "value": 4}, "value": 3}}}
   },
   "layer": [
    {"transform": [{"filter": "datum.s === 'Pristine'"}], "mark": {"type": "line", "interpolate": "monotone", "strokeWidth": 3}, "encoding": {"color": {"field": "s", "type": "nominal", "scale": {"domain": ["Pristine", "Post-baked"], "range": ["#474747", "#ff0000"]}, "legend": {"title": null, "orient": "none", "legendX": -3, "legendY": 1, "direction": "vertical", "padding": 0, "labelExpr": "datum.label + ' PSU-C-7c'", "symbolType": "stroke", "symbolSize": 100, "symbolStrokeWidth": 2.6, "labelOffset": 26.5, "rowPadding": 5, "labelLimit": 400, "labelFont": "Liberation Sans", "labelFontSize": 15.5, "labelFontWeight": "bold", "labelColor": "#000000", "encode": {"symbols": {"update": {"shape": {"signal": "datum.value === 'Pristine' ? 'M-1.55,0H5.65M1.25,-0.6H2.45V0.6H1.25Z' : 'M-1.55,0H5.65M1.25,0A0.6,0.6 0 1,0 2.45,0A0.6,0.6 0 1,0 1.25,0Z'"}, "fill": {"signal": "datum.value === 'Pristine' ? '#000000' : '#ff0000'"}, "fillOpacity": {"value": 1}, "opacity": {"value": 1}}}}}}}},
    {"transform": [{"filter": "datum.s === 'Pristine'"}], "mark": {"type": "point", "shape": "square", "filled": true, "color": "#000000", "size": 22, "opacity": 1}},
    {"transform": [{"filter": "datum.s === 'Post-baked'"}], "mark": {"type": "line", "interpolate": "monotone", "strokeWidth": 2.6}, "encoding": {"color": {"field": "s", "type": "nominal", "scale": {"domain": ["Pristine", "Post-baked"], "range": ["#474747", "#ff0000"]}}}},
    {"transform": [{"filter": "datum.s === 'Post-baked'"}], "mark": {"type": "point", "shape": "circle", "filled": true, "color": "#ff0000", "size": 20, "opacity": 1}}
   ]
  }
 ]}
],
"config": {
 "view": {"stroke": "#000000", "strokeWidth": 1.5},
 "axis": {"domainColor": "#000000", "domainWidth": 1.5, "tickColor": "#000000", "tickWidth": 1.5, "labelFont": "Liberation Serif", "labelFontWeight": "bold", "labelColor": "#000000", "labelPadding": 3, "grid": false, "titleFont": "Liberation Sans", "titleFontSize": 25, "titleFontWeight": "bold", "titleColor": "#000000", "labelFlush": false, "labelOverlap": false},
 "axisX": {"labelFontSize": 19},
 "axisY": {"labelFontSize": 18}
}
}
